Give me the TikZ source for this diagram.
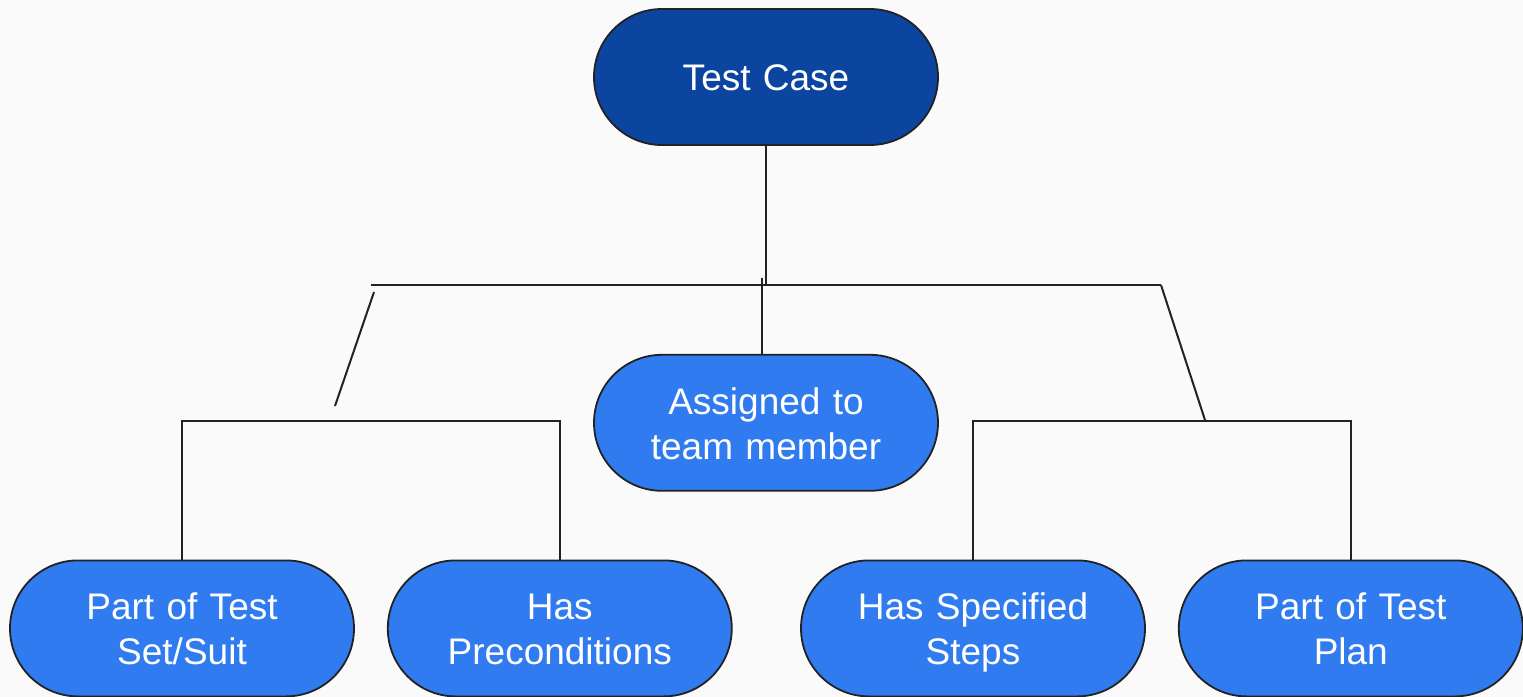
\documentclass[tikz,border=0pt]{standalone}
\usepackage{fontspec}
\setmainfont{Liberation Sans}
\usetikzlibrary{positioning}

\definecolor{pagebg}{RGB}{250,250,250}
\definecolor{topblue}{RGB}{11,69,160}
\definecolor{leafblue}{RGB}{48,123,240}
\definecolor{edgegray}{RGB}{34,34,34}

\begin{document}
\begin{tikzpicture}[]

\def\BoxWidth{172pt}
\def\BoxHeight{68pt}
\def\Spacing{16pt}
\def\TopStrut{\rule{0pt}{20.5pt}}

% Styles
\tikzstyle{box} =
	[text centered, text width=0.9 * \BoxWidth, minimum width=\BoxWidth,
	 font=\fontsize{18.5}{22.5}\selectfont, text=white,
	 execute at begin node=\TopStrut, execute at end node=\strut]

\tikzstyle{module} =
	[box, draw=edgegray, line width=0.9pt, fill=leafblue,
	 minimum height=\BoxHeight, rounded corners=0.5*\BoxHeight, inner sep=0pt]

\tikzstyle{root} =
	[module, fill=topblue]

\tikzstyle{link} =
	[draw=edgegray, line width=1pt]

\path[use as bounding box, fill=pagebg] (0,0) rectangle (761.5pt,-348.5pt);

% Modules

\node (TestCase) at (383pt, -38.5pt) [root] {Test Case};
\node (Assigned) [module, below=104pt of TestCase] {Assigned to\\ team member};

\node (SetSuit) at (91pt, -314.2pt) [module] {Part of Test\\ Set/Suit};
\node (Precond) [module, right=\Spacing of SetSuit] {Has\\ Preconditions};
\node (Steps) at (486.5pt, -314.2pt) [module] {Has Specified\\ Steps};
\node (TestPlan) [module, right=\Spacing of Steps] {Part of Test\\ Plan};

% Edges

\coordinate (HubY) at (0, -142.5pt);
\coordinate (HubL) at (185.5pt, -142.5pt);
\coordinate (HubR) at (580.5pt, -142.5pt);
\coordinate (StubTop) at (381pt, -139pt);
\coordinate (SlantL) at (187pt, -146pt);
\coordinate (SlantLEnd) at (167.5pt, -203pt);
\coordinate (SlantREnd) at (602.5pt, -210pt);
\coordinate (BarY) at (0, -210.5pt);

\draw[link] (TestCase.south) -- (TestCase.south |- HubY);
\draw[link] (HubL) -- (HubR);
\draw[link] (StubTop) -- (StubTop |- Assigned.north);
\draw[link] (SlantL) -- (SlantLEnd);
\draw[link] (HubR) -- (SlantREnd);

\draw[link] (SetSuit.north) -- (SetSuit.north |- BarY)
	-- (Precond.north |- BarY) -- (Precond.north);
\draw[link] (Steps.north) -- (Steps.north |- BarY)
	-- (TestPlan.north |- BarY) -- (TestPlan.north);

\end{tikzpicture}
\end{document}
